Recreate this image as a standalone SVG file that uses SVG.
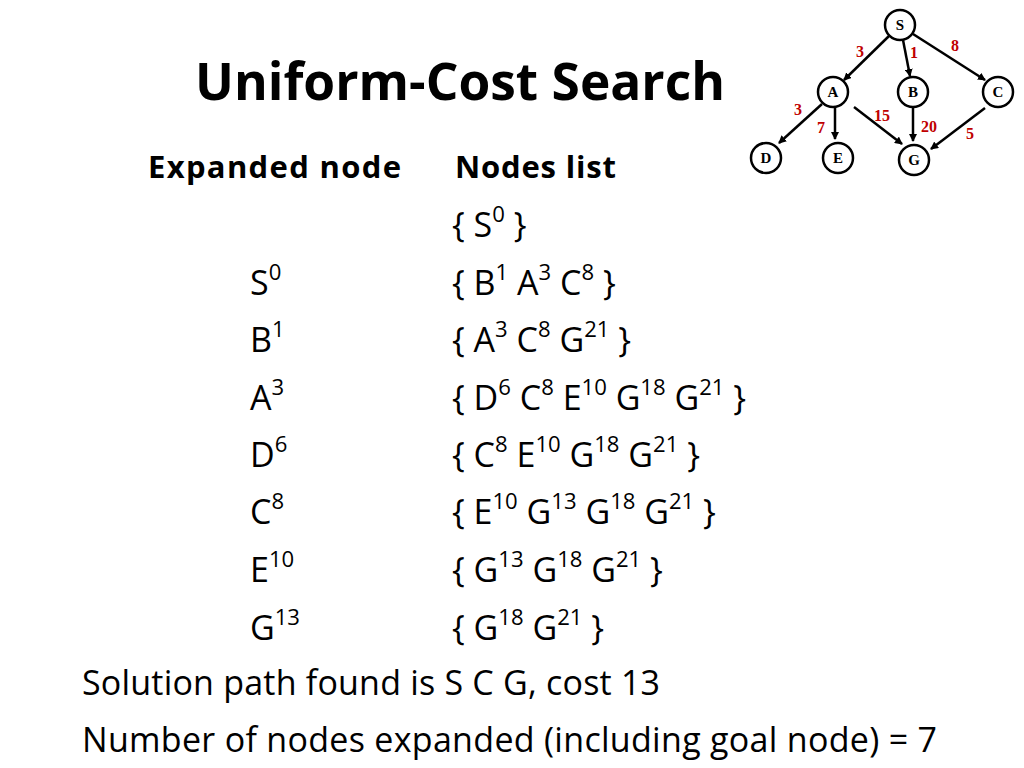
<svg xmlns="http://www.w3.org/2000/svg" width="1024" height="768" viewBox="0 0 1024 768">
<style>
text{font-family:"Open Sans","Liberation Sans",sans-serif;fill:#000}
.b{font-size:34px}
.h{font-size:31px;font-weight:bold}
.s{font-size:65%;baseline-shift:super}
.n circle{fill:#fff;stroke:#000;stroke-width:2.5}
.n text{font-family:"Liberation Serif",serif;font-weight:bold;font-size:15px;text-anchor:middle}
.e line{stroke:#000;stroke-width:2.5;marker-end:url(#a)}
.w text{font-family:"Liberation Serif",serif;font-weight:bold;font-size:16px;fill:#c00000}
</style>
<defs><marker id="a" markerWidth="8" markerHeight="8" refX="7" refY="4" orient="auto" markerUnits="userSpaceOnUse"><path d="M0,0L8,4L0,8z" fill="#000"/></marker></defs>
<rect width="1024" height="768" fill="#fff"/>
<text x="195" y="100" font-size="52" font-weight="bold" textLength="530" lengthAdjust="spacingAndGlyphs">Uniform-Cost Search</text>
<g id="connectors" class="e">
<line x1="889" y1="36" x2="844" y2="80"/>
<line x1="903" y1="40" x2="910" y2="76"/>
<line x1="913" y1="34" x2="985" y2="80"/>
<line x1="822" y1="104" x2="779" y2="143"/>
<line x1="835" y1="108" x2="835" y2="139"/>
<line x1="854" y1="107" x2="902" y2="144"/>
<line x1="913" y1="108" x2="913" y2="141"/>
<line x1="985" y1="108" x2="931" y2="149"/>
</g>
<g class="w">
<text x="856" y="57">3</text><text x="910" y="58">1</text><text x="951" y="51">8</text>
<text x="794" y="115">3</text><text x="817" y="133">7</text><text x="874" y="121">15</text>
<text x="921" y="132">20</text><text x="966" y="139">5</text>
</g>
<g class="n">
<g id="S"><circle cx="900" cy="25" r="15"/><text x="900" y="30">S</text></g>
<g id="A"><circle cx="833" cy="92" r="15"/><text x="833" y="97">A</text></g>
<g id="B"><circle cx="913" cy="92" r="15"/><text x="913" y="97">B</text></g>
<g id="C"><circle cx="998" cy="92" r="15"/><text x="998" y="97">C</text></g>
<g id="D"><circle cx="766" cy="158" r="15"/><text x="766" y="163">D</text></g>
<g id="E"><circle cx="838" cy="158" r="15"/><text x="838" y="163">E</text></g>
<g id="G"><circle cx="914" cy="160" r="15"/><text x="914" y="165">G</text></g>
</g>
<text class="h" x="148" y="178" textLength="253">Expanded node</text>
<text class="h" x="455" y="178" textLength="161">Nodes list</text>
<g class="b">
<text x="452" y="237">{ S<tspan class="s">0</tspan> }</text>
<text x="250" y="295">S<tspan class="s">0</tspan></text><text x="452" y="295">{ B<tspan class="s">1</tspan> A<tspan class="s">3</tspan> C<tspan class="s">8</tspan> }</text>
<text x="250" y="352">B<tspan class="s">1</tspan></text><text x="452" y="352">{ A<tspan class="s">3</tspan> C<tspan class="s">8</tspan> G<tspan class="s">21</tspan> }</text>
<text x="250" y="410">A<tspan class="s">3</tspan></text><text x="452" y="410">{ D<tspan class="s">6</tspan> C<tspan class="s">8</tspan> E<tspan class="s">10</tspan> G<tspan class="s">18</tspan> G<tspan class="s">21</tspan> }</text>
<text x="250" y="467">D<tspan class="s">6</tspan></text><text x="452" y="467">{ C<tspan class="s">8</tspan> E<tspan class="s">10</tspan> G<tspan class="s">18</tspan> G<tspan class="s">21</tspan> }</text>
<text x="250" y="524">C<tspan class="s">8</tspan></text><text x="452" y="524">{ E<tspan class="s">10</tspan> G<tspan class="s">13</tspan> G<tspan class="s">18</tspan> G<tspan class="s">21</tspan> }</text>
<text x="250" y="582">E<tspan class="s">10</tspan></text><text x="452" y="582">{ G<tspan class="s">13</tspan> G<tspan class="s">18</tspan> G<tspan class="s">21</tspan> }</text>
<text x="250" y="640">G<tspan class="s">13</tspan></text><text x="452" y="640">{ G<tspan class="s">18</tspan> G<tspan class="s">21</tspan> }</text>
<text x="82" y="695" textLength="578">Solution path found is S C G, cost 13</text>
<text x="82" y="752" textLength="855">Number of nodes expanded (including goal node) = 7</text>
</g>
</svg>
